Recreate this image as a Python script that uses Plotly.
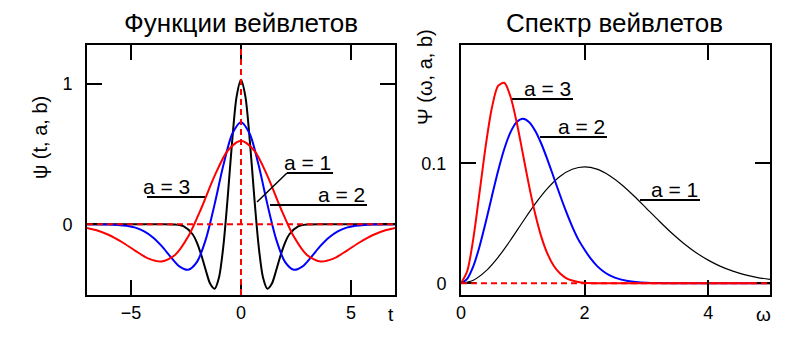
import plotly.graph_objects as go

W, H = 805, 338

# ---------------- data ----------------
# Left: wavelet functions psi(t, a, b)
t1 = [-7, -4, -3, -2.6, -2.2, -2.0, -1.8, -1.6, -1.4, -1.2, -1.0, -0.8, -0.6, -0.4, -0.2,
      0, 0.2, 0.4, 0.6, 0.8, 1.0, 1.2, 1.4, 1.6, 1.8, 2.0, 2.2, 2.6, 3, 4, 7]
psi1 = [0, 0, -0.002, -0.015, -0.071, -0.132, -0.221, -0.328, -0.424, -0.459, -0.379, -0.152, 0.201, 0.597, 0.910,
        1.030, 0.910, 0.597, 0.201, -0.152, -0.379, -0.459, -0.424, -0.328, -0.221, -0.132, -0.071, -0.015, -0.002, 0, 0]

t2 = [-7, -6, -5.6, -5.2, -4.8, -4.4, -4.0, -3.6, -3.2, -2.8, -2.4, -2.0, -1.6, -1.2, -0.8, -0.4,
      0, 0.4, 0.8, 1.2, 1.6, 2.0, 2.4, 2.8, 3.2, 3.6, 4.0, 4.4, 4.8, 5.2, 5.6, 6.0, 7]
psi2 = [0, -0.0015, -0.0042, -0.0106, -0.024, -0.050, -0.0934, -0.156, -0.232, -0.300, -0.324, -0.268, -0.1075, 0.142, 0.422, 0.644,
        0.728, 0.644, 0.422, 0.142, -0.1075, -0.268, -0.324, -0.300, -0.232, -0.156, -0.0934, -0.050, -0.024, -0.0106, -0.0042, -0.0015, 0]

t3 = [-7.0, -6.6, -6.0, -5.4, -4.8, -4.2, -3.6, -3.0, -2.4, -1.8, -1.2, -0.6,
      0, 0.6, 1.2, 1.8, 2.4, 3.0, 3.6, 4.2, 4.8, 5.4, 6.0, 6.6, 7.0]
psi3 = [-0.0254, -0.0408, -0.0762, -0.128, -0.189, -0.245, -0.265, -0.219, -0.0878, 0.116, 0.345, 0.526,
        0.595, 0.526, 0.345, 0.116, -0.0878, -0.219, -0.265, -0.245, -0.189, -0.128, -0.0762, -0.0408, -0.0254]

# Right: wavelet spectra Psi(omega, a, b)
w1 = [0, 0.2, 0.4, 0.6, 0.8, 1.0, 1.2, 1.4, 1.6, 1.8, 2.0, 2.2, 2.4, 2.6, 2.8, 3.0,
      3.2, 3.4, 3.6, 3.8, 4.0, 4.2, 4.4, 4.6, 4.8, 5.0]
S1 = [0, 0.0026, 0.0101, 0.0217, 0.0359, 0.0513, 0.0662, 0.0791, 0.0890, 0.0950, 0.0970, 0.0951, 0.0899, 0.0822,
      0.0728, 0.0625, 0.0522, 0.0423, 0.0334, 0.0257, 0.0193, 0.0141, 0.0101, 0.0070, 0.0048, 0.0032]

w2 = [0, 0.1, 0.2, 0.3, 0.4, 0.5, 0.6, 0.7, 0.8, 0.9, 1.0, 1.1, 1.2, 1.3, 1.4, 1.5, 1.6, 1.7, 1.8, 1.9,
      2.0, 2.1, 2.2, 2.3, 2.4, 2.5, 2.7, 3.0, 3.5, 5.0]
S2 = [0, 0.0037, 0.0143, 0.0307, 0.0508, 0.0726, 0.0936, 0.1119, 0.1258, 0.1343, 0.1371, 0.1345, 0.1272, 0.1163,
      0.1029, 0.0884, 0.0738, 0.0599, 0.0473, 0.0364, 0.0280, 0.0205, 0.0145, 0.0100, 0.0068, 0.0045, 0.0019, 0.0004, 0, 0]

w3 = [0, 0.1, 0.2, 0.3, 0.4, 0.5, 0.6, 0.7, 0.8, 0.9, 1.0, 1.1, 1.2, 1.3, 1.4, 1.5, 1.6, 1.7, 1.8, 1.9,
      2.0, 2.2, 5.0]
S3 = [0, 0.0100, 0.0375, 0.0755, 0.1146, 0.1463, 0.1645, 0.1671, 0.1557, 0.1344, 0.1082, 0.0816, 0.0579, 0.0387,
      0.0245, 0.0146, 0.0083, 0.0044, 0.0023, 0.0011, 0.0005, 0.0001, 0]

left_xticks = [-5, 0, 5]
left_xticklabels = ["\u22125", "0", "5"]
left_yticks = [0, 1]
left_yticklabels = ["0", "1"]
right_xticks = [0, 2, 4]
right_xticklabels = ["0", "2", "4"]
right_yticks = [0, 0.1]
right_yticklabels = ["0", "0.1"]

titles = ["Функции вейвлетов", "Спектр вейвлетов"]
series_labels = ["a = 1", "a = 2", "a = 3"]
colors = ["#000000", "#0000ff", "#ff0000"]

FONT = "Liberation Sans, Arial, sans-serif"


def px(x):
    return x / W


def py(y):
    return 1 - y / H


fig = go.Figure()

# left curves
for t, v, c in [(t1, psi1, colors[0]), (t2, psi2, colors[1]), (t3, psi3, colors[2])]:
    fig.add_trace(go.Scatter(x=t, y=v, mode="lines", line=dict(color=c, width=2, shape="spline", smoothing=0.8),
                             xaxis="x", yaxis="y", showlegend=False, hoverinfo="skip"))

# right curves
for w, s, c, lw in [(w1, S1, colors[0], 1.2), (w2, S2, colors[1], 2), (w3, S3, colors[2], 2)]:
    fig.add_trace(go.Scatter(x=w, y=s, mode="lines", line=dict(color=c, width=lw, shape="spline", smoothing=0.8),
                             xaxis="x2", yaxis="y2", showlegend=False, hoverinfo="skip"))

axis_common = dict(showline=True, linecolor="black", linewidth=2, mirror="ticks", ticks="inside",
                   ticklen=15, tickwidth=2, tickcolor="black", showgrid=False, zeroline=False,
                   tickfont=dict(family=FONT, size=18, color="black"), automargin=False)

fig.update_layout(
    width=W, height=H, margin=dict(l=0, r=0, t=0, b=0),
    paper_bgcolor="white", plot_bgcolor="white", template="none", showlegend=False,
    xaxis=dict(domain=[px(87), px(395)], range=[-7, 7], anchor="y",
               tickvals=left_xticks, ticktext=left_xticklabels, ticklabelstandoff=0, **axis_common),
    yaxis=dict(domain=[py(295), py(45)], range=[-0.504, 1.278], anchor="x",
               tickvals=left_yticks, ticktext=left_yticklabels, ticklabelstandoff=9, **axis_common),
    xaxis2=dict(domain=[px(461), px(770)], range=[0, 5], anchor="y2",
                tickvals=right_xticks, ticktext=right_xticklabels, ticklabelstandoff=0, **axis_common),
    yaxis2=dict(domain=[py(295), py(45)], range=[-0.00975, 0.1986], anchor="x2",
                tickvals=right_yticks, ticktext=right_yticklabels, ticklabelstandoff=9, **axis_common),
)

# red dashed reference lines
dash_line = dict(color="#ff0000", width=2, dash="6px,4px")
fig.add_shape(type="line", xref="x domain", yref="y", x0=0, x1=1, y0=0, y1=0, line=dash_line)
fig.add_shape(type="line", xref="x", yref="y domain", x0=0, x1=0, y0=0, y1=1, line=dash_line)
fig.add_shape(type="line", xref="x2 domain", yref="y2", x0=0, x1=1, y0=0, y1=0, line=dash_line)

annots = []
# titles
annots.append(dict(text=titles[0], x=px(241), y=py(23), xanchor="center", yanchor="middle"))
annots.append(dict(text=titles[1], x=px(614), y=py(23), xanchor="center", yanchor="middle"))
for a in annots:
    a["font"] = dict(family=FONT, size=26, color="black")

# axis labels
lab_font = dict(family=FONT, size=20, color="black")
annots.append(dict(text="ψ (t, a, b)", x=px(40), y=py(138), textangle=-90, xanchor="center", yanchor="middle",
                   font=lab_font))
annots.append(dict(text="Ψ (ω, a, b)", x=px(425), y=py(77), textangle=-90, xanchor="center", yanchor="middle",
                   font=lab_font))
annots.append(dict(text="t", x=px(391), y=py(314), xanchor="center", yanchor="middle",
                   font=dict(family=FONT, size=19, color="black")))
annots.append(dict(text="ω", x=px(763), y=py(314), xanchor="center", yanchor="middle",
                   font=dict(family=FONT, size=19, color="black")))

# curve labels with underlines (pixel positions)
curve_labels = [
    # text, text right edge, underline y, underline x0, underline x1
    (series_labels[0], 333, 173, 287, 333),
    (series_labels[1], 367, 205, 270, 367),
    (series_labels[2], 192, 197, 147, 205),
    (series_labels[2], 573, 99, 512, 573),
    (series_labels[1], 607, 137, 540, 607),
    (series_labels[0], 700, 200, 640, 700),
]
for txt, xr, uy, ux0, ux1 in curve_labels:
    annots.append(dict(text=txt, x=px(xr), y=py(uy + 3), xanchor="right", yanchor="bottom",
                       font=dict(family=FONT, size=21, color="black")))
    fig.add_shape(type="line", xref="paper", yref="paper", x0=px(ux0), x1=px(ux1), y0=py(uy), y1=py(uy),
                  line=dict(color="black", width=2))
# leader for a = 1 on the left
fig.add_shape(type="line", xref="paper", yref="paper", x0=px(287), y0=py(173), x1=px(257), y1=py(202),
              line=dict(color="black", width=1.5))

for a in annots:
    a.update(xref="paper", yref="paper", showarrow=False)
fig.update_layout(annotations=annots)

fig.write_html("out.html")
